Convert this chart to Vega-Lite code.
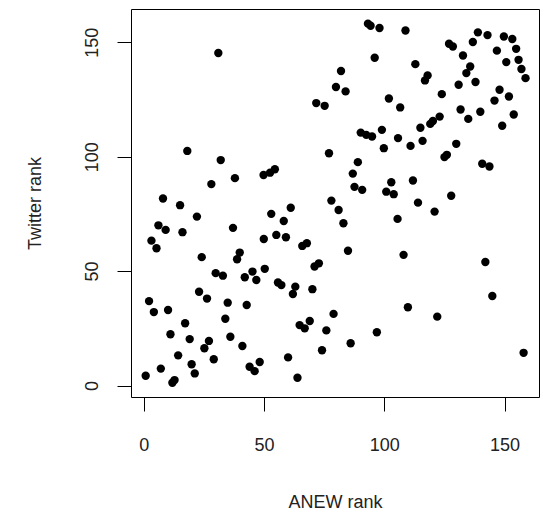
{
  "$schema": "https://vega.github.io/schema/vega-lite/v6.json",
  "width": 408,
  "height": 388,
  "autosize": {"type": "none"},
  "padding": {"left": 131, "top": 9, "right": 4, "bottom": 117},
  "background": "white",
  "config": {
    "view": {"stroke": "black", "strokeWidth": 1},
    "axis": {
      "grid": false,
      "domain": false,
      "tickSize": 14,
      "tickColor": "black",
      "tickWidth": 1,
      "labelFont": "Liberation Sans",
      "labelFontSize": 18,
      "labelColor": "#222",
      "labelFlush": false,
      "labelOverlap": false,
      "titleFont": "Liberation Sans",
      "titleFontSize": 18,
      "titleFontWeight": "normal",
      "titleColor": "#222"
    }
  },
  "data": {
    "values": [
      {"anew": 31.0, "twitter": 145.3},
      {"anew": 93.2, "twitter": 158.1},
      {"anew": 94.3, "twitter": 157.2},
      {"anew": 98.0, "twitter": 156.2},
      {"anew": 96.0, "twitter": 143.2},
      {"anew": 82.0, "twitter": 137.4},
      {"anew": 79.9, "twitter": 130.4},
      {"anew": 83.9, "twitter": 128.5},
      {"anew": 71.7, "twitter": 123.4},
      {"anew": 75.2, "twitter": 122.2},
      {"anew": 101.9, "twitter": 125.4},
      {"anew": 106.6, "twitter": 121.5},
      {"anew": 99.0, "twitter": 111.7},
      {"anew": 90.2, "twitter": 110.5},
      {"anew": 92.5, "twitter": 109.5},
      {"anew": 94.9, "twitter": 108.8},
      {"anew": 105.7, "twitter": 108.1},
      {"anew": 108.8, "twitter": 155.1},
      {"anew": 126.9, "twitter": 149.3},
      {"anew": 128.5, "twitter": 148.1},
      {"anew": 138.9, "twitter": 154.3},
      {"anew": 142.9, "twitter": 153.1},
      {"anew": 136.8, "twitter": 150.1},
      {"anew": 149.7, "twitter": 152.5},
      {"anew": 153.2, "twitter": 151.4},
      {"anew": 154.8, "twitter": 147.1},
      {"anew": 146.8, "twitter": 146.3},
      {"anew": 132.7, "twitter": 144.2},
      {"anew": 150.7, "twitter": 141.3},
      {"anew": 155.8, "twitter": 142.3},
      {"anew": 157.0, "twitter": 138.3},
      {"anew": 158.7, "twitter": 134.3},
      {"anew": 112.9, "twitter": 140.4},
      {"anew": 118.0, "twitter": 135.5},
      {"anew": 116.9, "twitter": 133.3},
      {"anew": 135.7, "twitter": 139.4},
      {"anew": 134.1, "twitter": 136.5},
      {"anew": 137.9, "twitter": 132.6},
      {"anew": 130.9, "twitter": 131.4},
      {"anew": 123.9, "twitter": 127.3},
      {"anew": 147.9, "twitter": 129.2},
      {"anew": 151.8, "twitter": 126.3},
      {"anew": 145.8, "twitter": 124.5},
      {"anew": 131.7, "twitter": 120.6},
      {"anew": 134.9, "twitter": 116.5},
      {"anew": 139.9, "twitter": 119.6},
      {"anew": 153.8, "twitter": 118.4},
      {"anew": 123.0, "twitter": 117.5},
      {"anew": 120.2, "twitter": 115.6},
      {"anew": 119.1, "twitter": 114.3},
      {"anew": 115.0, "twitter": 112.6},
      {"anew": 149.0, "twitter": 113.5},
      {"anew": 110.9, "twitter": 104.7},
      {"anew": 115.9, "twitter": 106.9},
      {"anew": 129.9, "twitter": 105.6},
      {"anew": 125.0, "twitter": 99.8},
      {"anew": 126.0, "twitter": 100.8},
      {"anew": 140.7, "twitter": 96.9},
      {"anew": 143.7, "twitter": 95.7},
      {"anew": 111.9, "twitter": 89.6},
      {"anew": 127.8, "twitter": 82.9},
      {"anew": 114.0, "twitter": 79.9},
      {"anew": 120.9, "twitter": 76.0},
      {"anew": 108.0, "twitter": 57.1},
      {"anew": 142.0, "twitter": 54.0},
      {"anew": 99.8, "twitter": 103.7},
      {"anew": 77.0, "twitter": 101.5},
      {"anew": 89.0, "twitter": 97.6},
      {"anew": 86.9, "twitter": 92.6},
      {"anew": 87.6, "twitter": 86.8},
      {"anew": 90.8, "twitter": 85.5},
      {"anew": 102.9, "twitter": 88.8},
      {"anew": 100.8, "twitter": 84.7},
      {"anew": 103.9, "twitter": 83.6},
      {"anew": 49.8, "twitter": 92.0},
      {"anew": 52.5, "twitter": 93.0},
      {"anew": 54.5, "twitter": 94.5},
      {"anew": 78.0, "twitter": 80.8},
      {"anew": 81.0, "twitter": 76.7},
      {"anew": 83.0, "twitter": 70.9},
      {"anew": 105.5, "twitter": 72.8},
      {"anew": 61.1, "twitter": 77.7},
      {"anew": 53.0, "twitter": 75.0},
      {"anew": 58.2, "twitter": 71.9},
      {"anew": 55.1, "twitter": 65.8},
      {"anew": 59.1, "twitter": 64.8},
      {"anew": 49.9, "twitter": 64.0},
      {"anew": 65.9, "twitter": 61.0},
      {"anew": 67.8, "twitter": 62.2},
      {"anew": 84.9, "twitter": 58.9},
      {"anew": 71.0, "twitter": 52.0},
      {"anew": 72.8, "twitter": 53.4},
      {"anew": 18.1, "twitter": 102.5},
      {"anew": 32.0, "twitter": 98.5},
      {"anew": 37.9, "twitter": 90.6},
      {"anew": 28.1, "twitter": 88.0},
      {"anew": 8.0, "twitter": 81.7},
      {"anew": 15.1, "twitter": 78.8},
      {"anew": 22.1, "twitter": 73.8},
      {"anew": 6.1, "twitter": 70.0},
      {"anew": 9.1, "twitter": 68.0},
      {"anew": 16.1, "twitter": 67.0},
      {"anew": 37.1, "twitter": 68.9},
      {"anew": 3.2, "twitter": 63.3},
      {"anew": 5.3, "twitter": 60.0},
      {"anew": 24.1, "twitter": 56.1},
      {"anew": 39.9, "twitter": 58.1},
      {"anew": 38.8, "twitter": 55.2},
      {"anew": 29.9, "twitter": 49.1},
      {"anew": 32.9, "twitter": 48.0},
      {"anew": 42.0, "twitter": 47.3},
      {"anew": 45.2, "twitter": 49.8},
      {"anew": 46.8, "twitter": 46.1},
      {"anew": 2.2, "twitter": 36.9},
      {"anew": 4.2, "twitter": 32.1},
      {"anew": 10.1, "twitter": 33.0},
      {"anew": 23.0, "twitter": 41.0},
      {"anew": 26.3, "twitter": 38.0},
      {"anew": 34.9, "twitter": 36.2},
      {"anew": 42.8, "twitter": 35.2},
      {"anew": 17.2, "twitter": 27.2},
      {"anew": 33.9, "twitter": 29.2},
      {"anew": 11.1, "twitter": 22.4},
      {"anew": 19.1, "twitter": 20.3},
      {"anew": 36.0, "twitter": 21.3},
      {"anew": 27.1, "twitter": 19.5},
      {"anew": 25.2, "twitter": 16.3},
      {"anew": 41.0, "twitter": 17.3},
      {"anew": 14.3, "twitter": 13.2},
      {"anew": 29.1, "twitter": 11.5},
      {"anew": 19.9, "twitter": 9.3},
      {"anew": 21.2, "twitter": 5.3},
      {"anew": 7.1, "twitter": 7.4},
      {"anew": 0.8, "twitter": 4.3},
      {"anew": 11.9, "twitter": 1.2},
      {"anew": 12.8, "twitter": 2.4},
      {"anew": 44.0, "twitter": 8.2},
      {"anew": 46.1, "twitter": 6.3},
      {"anew": 48.2, "twitter": 10.3},
      {"anew": 50.3, "twitter": 51.0},
      {"anew": 55.8, "twitter": 45.0},
      {"anew": 57.2, "twitter": 43.9},
      {"anew": 63.0, "twitter": 43.2},
      {"anew": 62.0, "twitter": 40.0},
      {"anew": 70.1, "twitter": 42.1},
      {"anew": 78.9, "twitter": 31.3},
      {"anew": 69.0, "twitter": 28.2},
      {"anew": 64.8, "twitter": 26.4},
      {"anew": 66.9, "twitter": 25.0},
      {"anew": 75.9, "twitter": 24.1},
      {"anew": 96.9, "twitter": 23.3},
      {"anew": 86.0, "twitter": 18.5},
      {"anew": 74.1, "twitter": 15.4},
      {"anew": 60.0, "twitter": 12.3},
      {"anew": 63.9, "twitter": 3.4},
      {"anew": 109.8, "twitter": 34.2},
      {"anew": 122.0, "twitter": 30.1},
      {"anew": 144.9, "twitter": 39.1},
      {"anew": 157.9, "twitter": 14.3}
    ]
  },
  "mark": {"type": "circle", "color": "black", "opacity": 1, "size": 70},
  "encoding": {
    "x": {
      "field": "anew",
      "type": "quantitative",
      "scale": {"domain": [-5.3, 164.3], "nice": false, "zero": false},
      "axis": {
        "values": [0, 50, 100, 150],
        "title": "ANEW rank",
        "labelBaseline": "alphabetic",
        "labelPadding": 39,
        "titleX": 204,
        "titleY": 110,
        "titleAlign": "center",
        "titleBaseline": "alphabetic"
      }
    },
    "y": {
      "field": "twitter",
      "type": "quantitative",
      "scale": {"domain": [-5.0, 164.5], "nice": false, "zero": false},
      "axis": {
        "values": [0, 50, 100, 150],
        "title": "Twitter rank",
        "labelAngle": 270,
        "labelAlign": "center",
        "labelBaseline": "alphabetic",
        "labelPadding": 20,
        "titleAngle": 270,
        "titleX": -91,
        "titleY": 194,
        "titleAlign": "center",
        "titleBaseline": "alphabetic"
      }
    }
  }
}
